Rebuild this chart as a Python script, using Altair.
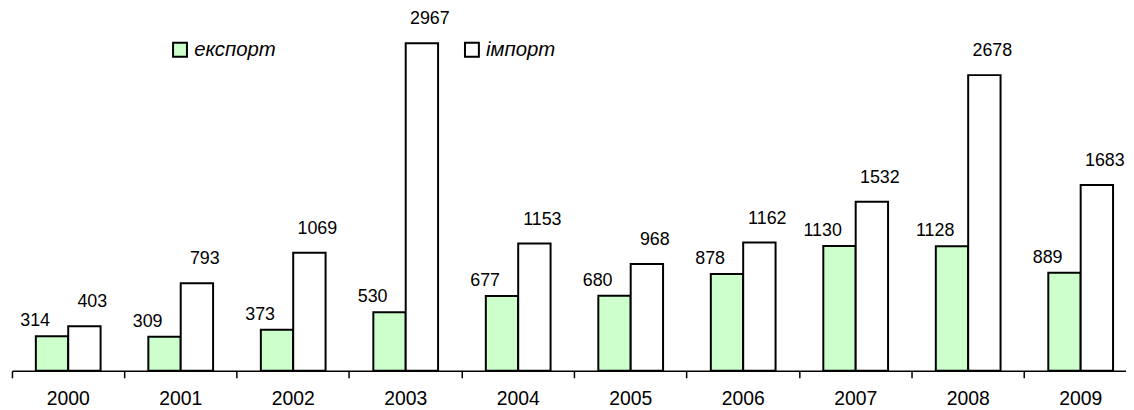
import altair as alt
import pandas as pd

years = ["2000", "2001", "2002", "2003", "2004", "2005", "2006", "2007", "2008", "2009"]
export_vals = [314, 309, 373, 530, 677, 680, 878, 1130, 1128, 889]
import_vals = [403, 793, 1069, 2967, 1153, 968, 1162, 1532, 2678, 1683]
series = ["експорт", "імпорт"]
colors = ["#CCFFCC", "#FFFFFF"]

rows = []
for y, e, i in zip(years, export_vals, import_vals):
    rows.append({"year": y, "series": series[0], "value": e})
    rows.append({"year": y, "series": series[1], "value": i})
df = pd.DataFrame(rows)

FONT = "Liberation Sans"
band_total = 1133

x_enc = alt.X(
    "year:N",
    sort=years,
    title=None,
    scale=alt.Scale(range=[0, band_total], paddingInner=0, paddingOuter=0),
    axis=alt.Axis(
        bandPosition=0,
        labelAngle=0,
        labelFont=FONT,
        labelFontSize=19.5,
        labelColor="black",
        labelPadding=12,
        domainColor="black",
        domainWidth=1.5,
        tickColor="black",
        tickWidth=1.5,
        tickSize=7,
        grid=False,
    ),
)
xoff = alt.XOffset(
    "series:N",
    sort=series,
    scale=alt.Scale(domain=series, paddingInner=0, paddingOuter=0.7375),
)
y_scale = alt.Scale(domain=[0, 3273], nice=False, zero=True)
y_enc = alt.Y("value:Q", scale=y_scale, axis=None)

bars = alt.Chart(df).mark_bar(stroke="black", strokeWidth=2).encode(
    x=x_enc,
    xOffset=xoff,
    y=y_enc,
    color=alt.Color(
        "series:N",
        sort=series,
        scale=alt.Scale(domain=series, range=colors),
        legend=alt.Legend(
            title=None,
            orient="none",
            legendX=159,
            legendY=30,
            direction="horizontal",
            symbolType="square",
            symbolSize=196,
            symbolStrokeColor="black",
            symbolStrokeWidth=2,
            labelFont=FONT,
            labelFontSize=20.5,
            labelFontStyle="italic",
            labelColor="black",
            labelOffset=4,
            columnPadding=186,
            padding=0,
        ),
    ),
)

def labels(name, dx, dy):
    return alt.Chart(df).transform_filter(alt.datum.series == name).mark_text(
        font=FONT, fontSize=18, color="black", baseline="middle", dx=dx, dy=dy
    ).encode(
        x=alt.X("year:N", sort=years),
        xOffset=alt.XOffset("series:N", sort=series),
        y=alt.Y("value:Q", scale=y_scale),
        text=alt.Text("value:Q"),
    )

chart = alt.layer(
    bars, labels(series[0], -17, -15), labels(series[1], 8, -24)
).properties(
    width=1122,
    height=364,
    padding={"left": 4, "right": 0, "top": 0, "bottom": 38},
    autosize=alt.AutoSizeParams(type="none"),
).configure_view(stroke=None)

chart.save("out.html", embed_options={"renderer": "svg", "actions": False})
